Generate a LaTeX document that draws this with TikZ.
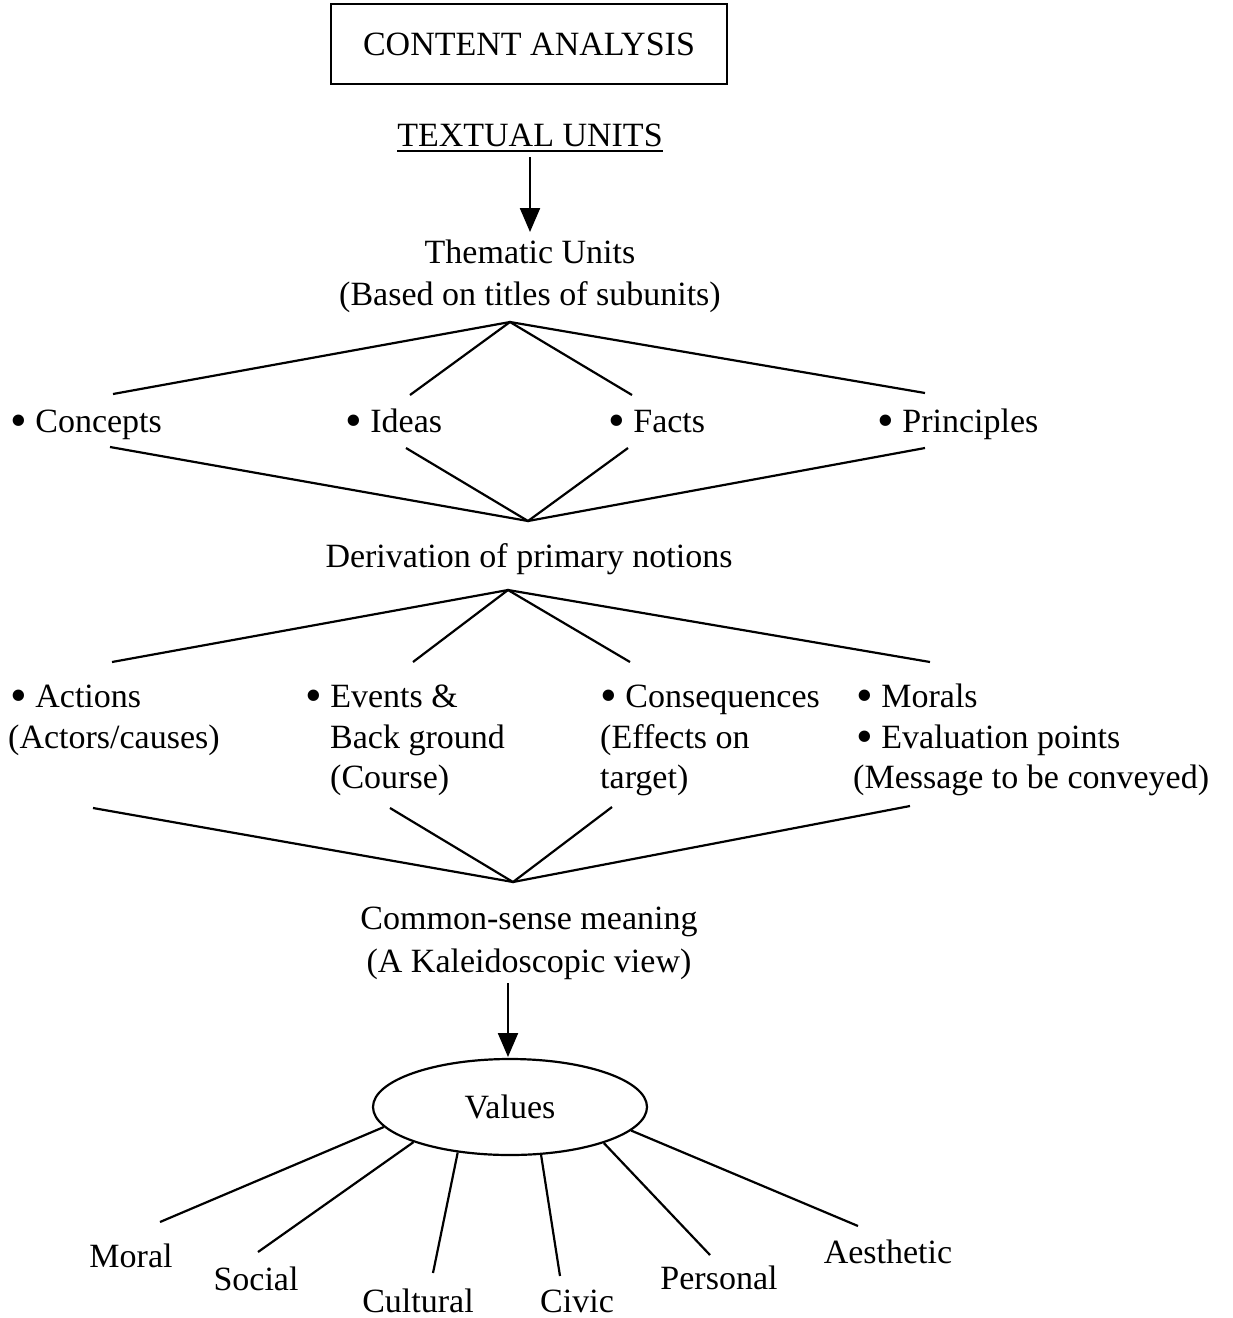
\documentclass[tikz,border=0pt]{standalone}
\usepackage{fontspec}
\setmainfont{Liberation Serif}
\usetikzlibrary{arrows.meta,shapes.geometric}
\newcommand\dfont{\fontsize{34}{41}\selectfont}
\newcommand\bul{\smash{\raisebox{-0.14em}{\scalebox{1.4}{\textbullet}}}}
\begin{document}
\begin{tikzpicture}[x=1pt,y=-1pt,
  txt/.style={inner sep=0pt,font=\dfont},
  lt/.style={txt,anchor=base west},
  ct/.style={txt,anchor=base},
  ln/.style={line width=2.2pt},
  arr/.style={line width=2.2pt,-{Triangle[width=20pt,length=24pt]}}]
\useasboundingbox (0,0) rectangle (1233,1318);

% title box
\node[draw,line width=2pt,minimum width=396pt,minimum height=80pt,inner sep=0pt,font=\dfont] (ca) at (529,44) {CONTENT ANALYSIS};
\node[ct] (tu) at (530,146) {TEXTUAL UNITS};
\draw[line width=1.6pt] ([yshift=-5pt]tu.base west) -- ([yshift=-5pt]tu.base east);
\coordinate (ar1s) at (530,157);
\coordinate (ar1e) at (530,232);
\draw[arr] (ar1s) -- (ar1e);

\node[ct] (th1) at (530,263) {Thematic Units};
\node[ct] (th2) at (530,305) {(Based on titles of subunits)};

% row 1
\node[lt] (con) at (10,432) {\bul\ Concepts};
\node[lt] (ide) at (345,432) {\bul\ Ideas};
\node[lt] (fac) at (608,432) {\bul\ Facts};
\node[lt] (pri) at (877,432) {\bul\ Principles};

\coordinate (ap1) at (510,322);
\coordinate (c1t) at (113,394);
\coordinate (i1t) at (410,395);
\coordinate (f1t) at (632,395);
\coordinate (p1t) at (925,393);
\draw[ln] (c1t) -- (ap1) -- (p1t);
\draw[ln] (i1t) -- (ap1) -- (f1t);

\coordinate (ap2) at (528,521);
\coordinate (c1b) at (110,447);
\coordinate (i1b) at (406,448);
\coordinate (f1b) at (628,448);
\coordinate (p1b) at (925,448);
\draw[ln] (c1b) -- (ap2) -- (p1b);
\draw[ln] (i1b) -- (ap2) -- (f1b);

\node[ct] (der) at (529,567) {Derivation of primary notions};

% row 2
\node[lt] (act1) at (10,707) {\bul\ Actions};
\node[lt] (act2) at (8,748) {(Actors/causes)};
\node[lt] (eve1) at (305,707) {\bul\ Events \&};
\node[lt] (eve2) at (330,748) {Back ground};
\node[lt] (eve3) at (330,788) {(Course)};
\node[lt] (cns1) at (600,707) {\bul\ Consequences};
\node[lt] (cns2) at (600,748) {(Effects on};
\node[lt] (cns3) at (600,788) {target)};
\node[lt] (mor1) at (856,707) {\bul\ Morals};
\node[lt] (mor2) at (856,748) {\bul\ Evaluation points};
\node[lt] (mor3) at (853,788) {(Message to be conveyed)};

\coordinate (ap3) at (508,590);
\coordinate (a2t) at (112,662);
\coordinate (e2t) at (413,662);
\coordinate (n2t) at (630,662);
\coordinate (m2t) at (930,662);
\draw[ln] (a2t) -- (ap3) -- (m2t);
\draw[ln] (e2t) -- (ap3) -- (n2t);

\coordinate (ap4) at (513,882);
\coordinate (a2b) at (93,808);
\coordinate (e2b) at (390,808);
\coordinate (n2b) at (612,807);
\coordinate (m2b) at (910,806);
\draw[ln] (a2b) -- (ap4) -- (m2b);
\draw[ln] (e2b) -- (ap4) -- (n2b);

\node[ct] (cs1) at (529,929) {Common-sense meaning};
\node[ct] (cs2) at (529,972) {(A Kaleidoscopic view)};
\coordinate (ar2s) at (508,983);
\coordinate (ar2e) at (508,1057);
\draw[arr] (ar2s) -- (ar2e);

% values
\node[draw,ellipse,line width=2.2pt,minimum width=274pt,minimum height=96pt,inner sep=0pt,font=\dfont] (val) at (510,1107) {Values};

\node[ct] (mo) at (131,1267) {Moral};
\node[ct] (so) at (256,1290) {Social};
\node[ct] (cu) at (418,1312) {Cultural};
\node[ct] (ci) at (577,1312) {Civic};
\node[ct] (pe) at (719,1289) {Personal};
\node[ct] (ae) at (888,1263) {Aesthetic};

\coordinate (moe) at (160,1222);
\coordinate (soe) at (258,1252);
\coordinate (cue) at (433,1273);
\coordinate (cie) at (560,1276);
\coordinate (pee) at (710,1255);
\coordinate (aee) at (858,1226);
\draw[ln] (val.189) -- (moe);
\draw[ln] (val.200) -- (soe);
\draw[ln] (val.221.5) -- (cue);
\draw[ln] (val.303) -- (cie);
\draw[ln] (val.339.6) -- (pee);
\draw[ln] (val.349.3) -- (aee);
\end{tikzpicture}
\end{document}
